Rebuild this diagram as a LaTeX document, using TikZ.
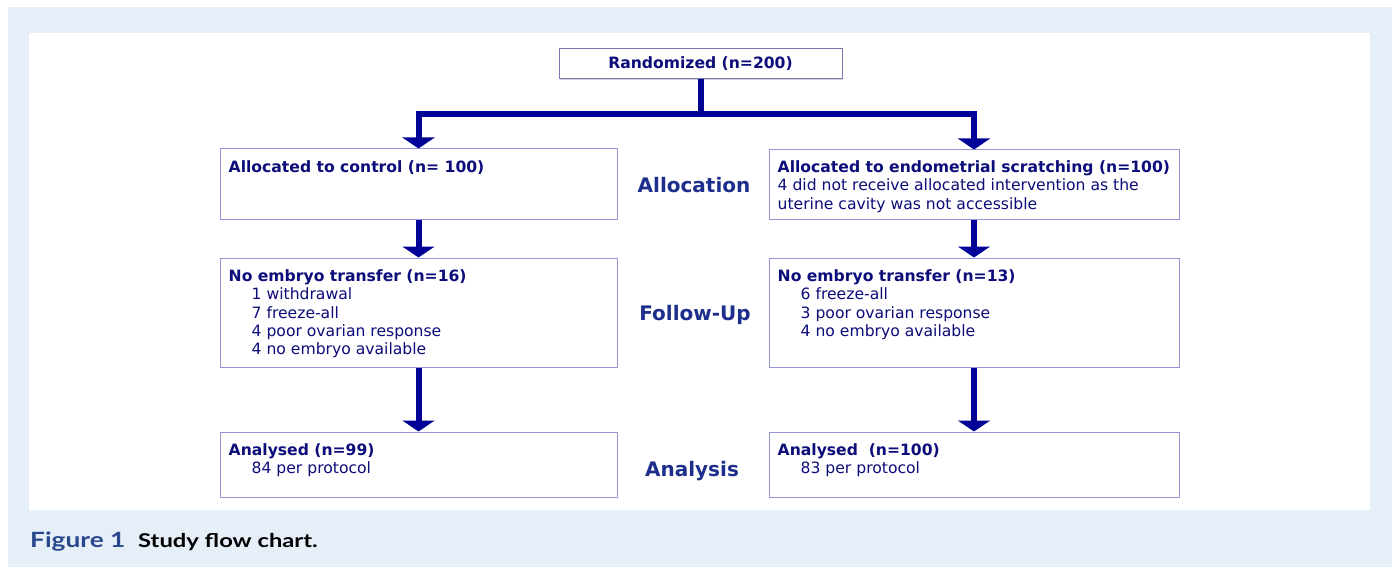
\documentclass[tikz,border=0pt]{standalone}
\usepackage{fontspec}
\setmainfont{DejaVu Sans}
\newfontfamily\capfont[FakeStretch=1.25]{Lato}
\usetikzlibrary{arrows.meta,shadows}

\newcommand{\ind}{\hspace*{23pt}}

\begin{document}
\begin{tikzpicture}[x=1pt,y=-1pt,
    box/.style={draw=boxline,line width=1pt,fill=white,inner sep=0pt,
        minimum width=#1},
    boxtxt/.style={anchor=base west,inner sep=0pt,text=boxtext,
        font=\fontsize{15.6}{18.3}\selectfont},
    phase/.style={anchor=base,inner sep=0pt,text=phaseblue,
        font=\bfseries\fontsize{20}{24}\selectfont},
    flow/.style={draw=arrowblue,line width=6pt,line join=miter,
        -{Triangle[length=11pt,width=32pt]}}]
    \definecolor{bgblue}{RGB}{230,238,248}
    \definecolor{boxline}{RGB}{150,150,218}
    \definecolor{boxtext}{RGB}{12,12,122}
    \definecolor{arrowblue}{RGB}{2,2,150}
    \definecolor{phaseblue}{RGB}{30,46,140}
    \definecolor{capblue}{RGB}{42,72,142}

    \useasboundingbox (0,0) rectangle (1392,567);

    % panel
    \fill[bgblue] (8,7) rectangle (1392,567);
    \fill[white] (29,33) rectangle (1370,510);

    % top box
    \node[box=283pt,minimum height=30pt,draw=boxline!80!black,
        drop shadow={shadow xshift=1.2pt,shadow yshift=-1.2pt,opacity=.35},
        text=boxtext,font=\bfseries\fontsize{15.6}{18.3}\selectfont]
        (rand) at (700.5,64) {Randomized (n=200)};

    % boxes
    \node[box=397pt,minimum height=70pt] (ctl1) at (418.5,184) {};
    \node[box=410pt,minimum height=69pt] (scr1) at (974,184.5) {};
    \node[box=397pt,minimum height=109pt] (ctl2) at (418.5,312.5) {};
    \node[box=410pt,minimum height=109pt] (scr2) at (974,312.5) {};
    \node[box=397pt,minimum height=65pt] (ctl3) at (418.5,464.5) {};
    \node[box=410pt,minimum height=65pt] (scr3) at (974,464.5) {};

    % box texts
    \node[boxtxt] (ctl1t) at ([shift={(9,24)}]ctl1.north west)
        {\begin{tabular}[t]{@{}l@{}}\bfseries Allocated to control (n= 100)\end{tabular}};
    \node[boxtxt] (scr1t) at ([shift={(9,23)}]scr1.north west)
        {\begin{tabular}[t]{@{}l@{}}\bfseries Allocated to endometrial scratching (n=100)\\
        4 did not receive allocated intervention as the\\
        uterine cavity was not accessible\end{tabular}};
    \node[boxtxt] (ctl2t) at ([shift={(9,24)}]ctl2.north west)
        {\begin{tabular}[t]{@{}l@{}}\bfseries No embryo transfer (n=16)\\
        \ind 1 withdrawal\\ \ind 7 freeze-all\\
        \ind 4 poor ovarian response\\ \ind 4 no embryo available\end{tabular}};
    \node[boxtxt] (scr2t) at ([shift={(9,24)}]scr2.north west)
        {\begin{tabular}[t]{@{}l@{}}\bfseries No embryo transfer (n=13)\\
        \ind 6 freeze-all\\ \ind 3 poor ovarian response\\
        \ind 4 no embryo available\end{tabular}};
    \node[boxtxt] (ctl3t) at ([shift={(9,24)}]ctl3.north west)
        {\begin{tabular}[t]{@{}l@{}}\bfseries Analysed (n=99)\\
        \ind 84 per protocol\end{tabular}};
    \node[boxtxt] (scr3t) at ([shift={(9,24)}]scr3.north west)
        {\begin{tabular}[t]{@{}l@{}}\bfseries Analysed~ (n=100)\\
        \ind 83 per protocol\end{tabular}};

    % phases
    \node[phase] (alloc) at (694,192) {Allocation};
    \node[phase] (follow) at (695,320) {Follow-Up};
    \node[phase] (anal) at (692,476) {Analysis};

    % arrows
    \draw[flow] (rand.south) -- ++(0,35) -| (ctl1.north);
    \draw[flow] (rand.south) -- ++(0,35) -| (scr1.north);
    \draw[flow] (ctl1.south) -- (ctl2.north);
    \draw[flow] (scr1.south) -- (scr2.north);
    \draw[flow] (ctl2.south) -- (ctl3.north);
    \draw[flow] (scr2.south) -- (scr3.north);

    % caption
    \node[anchor=base west,inner sep=0pt,text=capblue,
        font=\capfont\bfseries\fontsize{21}{24}\selectfont]
        (fignum) at (30,547) {Figure 1};
    \node[anchor=base west,inner sep=0pt,
        font=\capfont\bfseries\fontsize{19}{24}\selectfont]
        (figtitle) at (138,547) {Study flow chart.};
\end{tikzpicture}
\end{document}
